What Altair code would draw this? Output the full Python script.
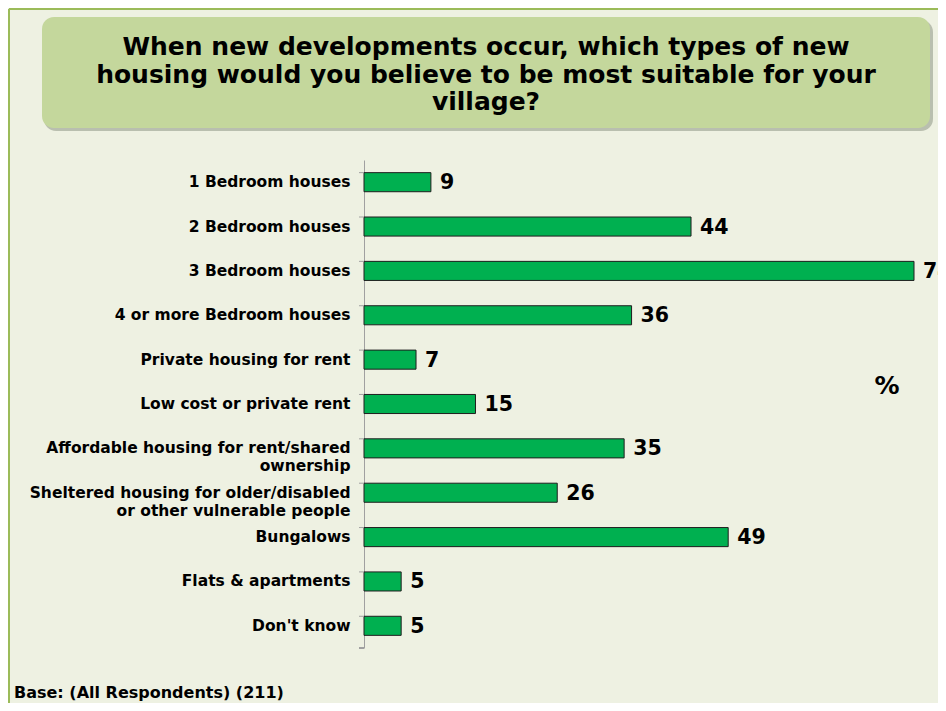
import altair as alt
import pandas as pd

categories = [
    "1 Bedroom houses",
    "2 Bedroom houses",
    "3 Bedroom houses",
    "4 or more Bedroom houses",
    "Private housing for rent",
    "Low cost or private rent",
    "Affordable housing for rent/shared|ownership",
    "Sheltered housing for older/disabled|or other vulnerable people",
    "Bungalows",
    "Flats & apartments",
    "Don't know",
]
values = [9, 44, 74, 36, 7, 15, 35, 26, 49, 5, 5]
title_lines = [
    "When new developments occur, which types of new",
    "housing would you believe to be most suitable for your",
    "village?",
]
base_note = "Base: (All Respondents) (211)"
unit_label = "%"

FONT = "DejaVu Sans"
BG = "#EEF1E2"

df = pd.DataFrame({"category": categories, "value": values})

y_scale = alt.Scale(paddingInner=0.57, paddingOuter=0.285)

y_enc = alt.Y(
    "category:N",
    sort=categories,
    scale=y_scale,
    axis=alt.Axis(
        title=None,
        labelExpr="split(datum.label, '|')",
        labelFont=FONT,
        labelFontWeight="bold",
        labelFontSize=15.5,
        labelColor="#000000",
        labelPadding=14,
        labelLineHeight=18,
        labelLimit=400,
        ticks=False,
        domainColor="#A0A0A0",
        domainWidth=1,
    ),
)

x_enc = alt.X(
    "value:Q",
    scale=alt.Scale(domain=[0, 74], nice=False),
    axis=None,
)

base = alt.Chart(df)

bars = base.mark_bar(
    color="#00B050", stroke="#1E1E1E", strokeWidth=1
).encode(x=x_enc, y=y_enc)

labels = base.mark_text(
    align="left", baseline="middle", dx=9, dy=1,
    font=FONT, fontWeight="bold", fontSize=20.5, color="#000000",
).encode(x=x_enc, y=alt.Y("category:N", sort=categories), text="value:Q")

ticks = base.mark_rule(color="#A0A0A0", strokeWidth=1).encode(
    y=alt.Y("category:N", sort=categories, bandPosition=0),
    x=alt.value(-5),
    x2=alt.value(0),
)
bottom_tick = base.mark_rule(color="#A0A0A0", strokeWidth=1).encode(
    y=alt.value(488), x=alt.value(-5), x2=alt.value(0)
)

dummy = pd.DataFrame({"k": [0]})
deco = alt.Chart(dummy)

shadow = deco.mark_rect(cornerRadius=12, color="#8E9585", opacity=0.55).encode(
    x=alt.value(-320), x2=alt.value(569), y=alt.value(-140), y2=alt.value(-29)
)
box = deco.mark_rect(cornerRadius=12, color="#C4D79C").encode(
    x=alt.value(-322), x2=alt.value(566), y=alt.value(-143), y2=alt.value(-32)
)

title_text = deco.mark_text(
    align="center", baseline="top", font=FONT, fontWeight="bold",
    fontSize=25, color="#000000", lineBreak="\n", lineHeight=27.5,
).encode(
    text=alt.value("\n".join(title_lines)),
    x=alt.value(122),
    y=alt.value(-125),
)

pct = deco.mark_text(
    align="center", baseline="middle", font=FONT, fontWeight="bold",
    fontSize=25, color="#000000",
).encode(x=alt.value(523), y=alt.value(226), text=alt.value(unit_label))

note = deco.mark_text(
    align="left", baseline="middle", font=FONT, fontWeight="bold",
    fontSize=16, color="#000000",
).encode(x=alt.value(-350), y=alt.value(533), text=alt.value(base_note))

frame_left = deco.mark_rule(color="#9BBB59", strokeWidth=2).encode(
    x=alt.value(-355), y=alt.value(-151), y2=alt.value(545)
)
frame_top = deco.mark_rule(color="#9BBB59", strokeWidth=2).encode(
    x=alt.value(-355), x2=alt.value(590), y=alt.value(-151)
)

chart = (
    alt.layer(frame_left, frame_top, shadow, box, title_text, pct, note,
              bars, ticks, bottom_tick, labels)
    .properties(
        width=550,
        height=488,
        background=BG,
        padding={"left": 356, "top": 152, "right": 24, "bottom": 55},
        autosize=alt.AutoSizeParams(type="none"),
    )
    .configure_view(stroke=None)
)

chart.save("out.html", embed_options={"renderer": "svg", "actions": False})
